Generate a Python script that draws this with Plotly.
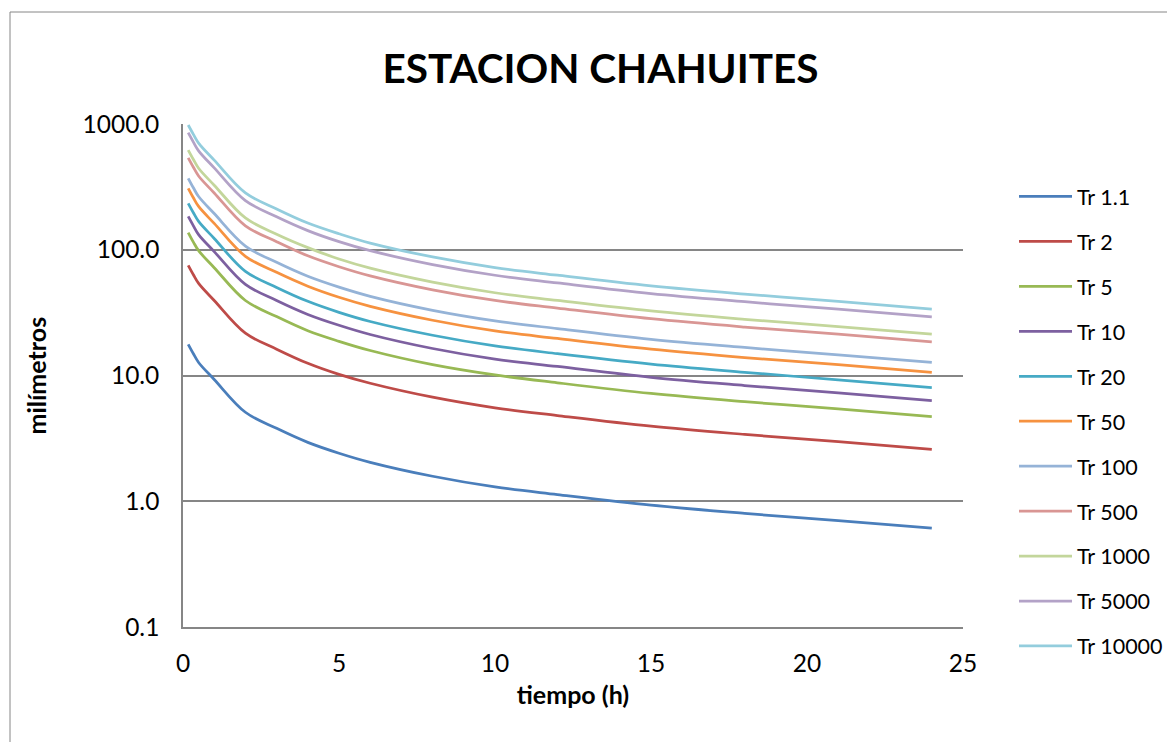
import plotly.graph_objects as go

# duration (h)
tiempo = [0.167, 0.333, 0.5, 1, 2, 3, 4, 5, 6, 8, 10, 12, 15, 18, 21, 24]

tr_1_1 = [17.7, 14.9, 12.7, 9.3, 5.1, 3.8, 2.94, 2.41, 2.04, 1.58, 1.30, 1.13, 0.93, 0.80, 0.70, 0.61]
tr_2 = [75.2, 63.3, 54.0, 39.5, 21.7, 16.2, 12.5, 10.2, 8.67, 6.72, 5.53, 4.80, 3.95, 3.40, 2.98, 2.58]
tr_5 = [137, 115, 98.3, 72.0, 39.5, 29.4, 22.7, 18.7, 15.8, 12.2, 10.1, 8.75, 7.20, 6.19, 5.42, 4.70]
tr_10 = [184, 155, 132, 96.7, 53.0, 39.5, 30.6, 25.1, 21.2, 16.4, 13.5, 11.8, 9.67, 8.32, 7.28, 6.31]
tr_20 = [234, 197, 168, 123, 67.3, 50.2, 38.9, 31.8, 26.9, 20.9, 17.2, 14.9, 12.3, 10.6, 9.24, 8.01]
tr_50 = [308, 259, 221, 162, 88.7, 66.1, 51.3, 41.9, 35.5, 27.5, 22.6, 19.7, 16.2, 13.9, 12.2, 10.6]
tr_100 = [370, 311, 265, 194, 107, 79.4, 61.5, 50.4, 42.6, 33.0, 27.2, 23.6, 19.4, 16.7, 14.6, 12.7]
tr_500 = [538, 453, 386, 283, 155, 116, 89.5, 73.3, 62.0, 48.0, 39.5, 34.4, 28.3, 24.3, 21.3, 18.5]
tr_1000 = [620, 522, 445, 326, 179, 133, 104, 84.4, 71.4, 55.3, 45.5, 39.6, 32.6, 28.0, 24.5, 21.3]
tr_5000 = [853, 718, 612, 448, 246, 183, 142, 116, 98.3, 76.2, 62.7, 54.5, 44.8, 38.6, 33.7, 29.3]
tr_10000 = [982, 827, 705, 516, 283, 211, 163, 134, 113, 87.7, 72.2, 62.7, 51.6, 44.4, 38.9, 33.7]

nombres = ["Tr 1.1", "Tr 2", "Tr 5", "Tr 10", "Tr 20", "Tr 50", "Tr 100",
           "Tr 500", "Tr 1000", "Tr 5000", "Tr 10000"]
series = [tr_1_1, tr_2, tr_5, tr_10, tr_20, tr_50, tr_100,
          tr_500, tr_1000, tr_5000, tr_10000]
colores = ["#4A7EBB", "#BE4B48", "#98B954", "#7D60A0", "#46AAC5", "#F69240",
           "#95B3D7", "#D99694", "#C3D69B", "#B3A2C7", "#93CDDD"]

FONT = "Lato"
GRIS = "#868686"

fig = go.Figure()
for i, (nombre, valores, color) in enumerate(zip(nombres, series, colores)):
    fig.add_trace(go.Scatter(
        x=tiempo, y=valores, name=nombre, mode="lines",
        line=dict(color=color, width=2.75, shape="spline", smoothing=1.0),
        legendgroup=str(i),
    ))

# the page adds an 8px body margin, so the margins are shifted to compensate
fig.update_layout(
    width=1175, height=742,
    margin=dict(l=175, r=220, t=116, b=123, autoexpand=False),
    paper_bgcolor="white", plot_bgcolor="white",
    font=dict(family=FONT, size=24.5, color="black"),
    title=dict(text="<b>ESTACION CHAHUITES</b>", x=592.5 / 1175, xanchor="center",
               y=1 - 61 / 742, yanchor="middle", font=dict(size=40.5, family=FONT)),
    showlegend=True,
    legend=dict(x=(1014 - 183) / 780, xanchor="left", y=(627 - 176) / 503, yanchor="top",
                font=dict(size=21.5, family=FONT), traceorder="grouped",
                tracegroupgap=14, itemwidth=53, bgcolor="rgba(0,0,0,0)"),
)

fig.update_xaxes(
    range=[0, 25], tickvals=[0, 5, 10, 15, 20, 25], showgrid=False,
    showline=True, linecolor=GRIS, linewidth=1.5, zeroline=False,
    ticks="outside", ticklen=14, tickcolor="rgba(0,0,0,0)",
    title=dict(text="<b>tiempo (h)</b>", font=dict(size=25), standoff=10),
)
fig.update_yaxes(
    type="log", range=[-1, 3], tickvals=[0.1, 1, 10, 100, 1000],
    ticktext=["0.1", "1.0", "10.0", "100.0", "1000.0"],
    showgrid=True, gridcolor=GRIS, gridwidth=1.5,
    showline=True, linecolor=GRIS, linewidth=1.5, zeroline=False,
    ticks="outside", ticklen=17, tickcolor="rgba(0,0,0,0)",
)

fig.add_annotation(text="<b>milímetros</b>", textangle=-90, x=(35 - 183) / 780, xref="paper",
                   xanchor="center", y=0.5, yref="paper", showarrow=False, font=dict(size=25))

# chart frame
fig.add_shape(type="rect", xref="paper", yref="paper",
              x0=(10 - 183) / 780, x1=1.4, y0=-0.5, y1=(627 - 12) / 503,
              line=dict(color=GRIS, width=1))

fig.write_html("out.html")
